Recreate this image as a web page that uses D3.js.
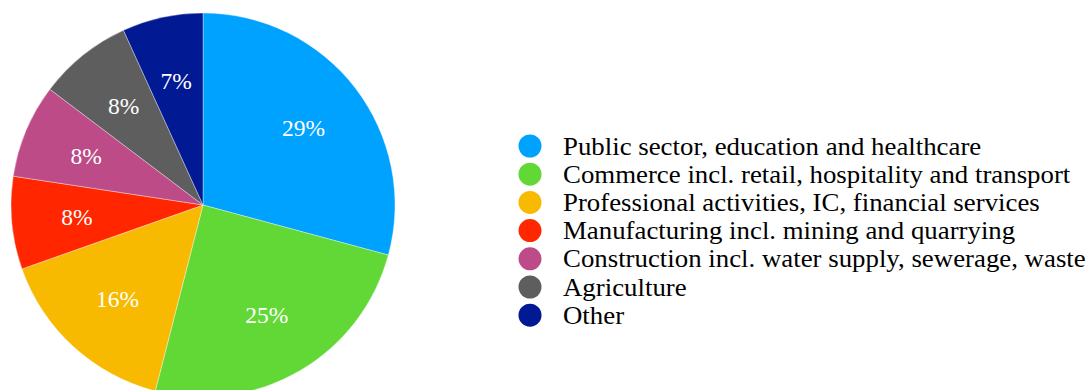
<!DOCTYPE html>
<html>
<head>
<meta charset="utf-8">
<script src="https://cdn.jsdelivr.net/npm/d3@7"></script>
<style>
  html, body { margin: 0; padding: 0; background: #ffffff; }
  svg { display: block; }
  text { font-family: "Liberation Serif", "Times New Roman", Times, serif; }
</style>
</head>
<body>
<svg id="chart" width="1085" height="390"></svg>
<script>
// Employment share by sector (percent)
const categories = [
  "Public sector, education and healthcare",
  "Commerce incl. retail, hospitality and transport",
  "Professional activities, IC, financial services",
  "Manufacturing incl. mining and quarrying",
  "Construction incl. water supply, sewerage, waste",
  "Agriculture",
  "Other"
];
const shares = [29.2, 24.8, 15.6, 7.8, 7.9, 7.9, 6.8];
const colors = ["#00a2ff", "#61d836", "#f8ba00", "#ff2600", "#bd4b87", "#5e5e5e", "#011993"];

const svg = d3.select("#chart");

const cx = 203, cy = 205, radius = 192;

const pie = d3.pie().sort(null).value(d => d)(shares);
const arc = d3.arc().innerRadius(0).outerRadius(radius);
const labelArc = d3.arc().innerRadius(radius * 0.66).outerRadius(radius * 0.66);
const color = d3.scaleOrdinal().domain(categories).range(colors);

const g = svg.append("g").attr("transform", `translate(${cx},${cy})`);

g.selectAll("path.slice")
  .data(pie)
  .join("path")
  .attr("class", "slice")
  .attr("d", arc)
  .attr("fill", (d, i) => color(categories[i]))
  .attr("stroke", "rgba(255,255,255,0.6)")
  .attr("stroke-width", 0.6);

const total = d3.sum(shares);
g.selectAll("text.pct")
  .data(pie)
  .join("text")
  .attr("class", "pct")
  .attr("transform", d => `translate(${labelArc.centroid(d)})`)
  .attr("text-anchor", "middle")
  .attr("dy", "0.35em")
  .attr("fill", "#ffffff")
  .attr("font-size", 23.5)
  .text(d => Math.round(d.value / total * 100) + "%");

// Legend: colour dot followed by the sector name
const legendX = 530, legendY = 146, rowH = 28.2;
const legend = svg.append("g");
const rows = legend.selectAll("g.row")
  .data(categories)
  .join("g")
  .attr("class", "row")
  .attr("transform", (d, i) => `translate(${legendX},${legendY + i * rowH})`);

rows.append("circle")
  .attr("r", 11.5)
  .attr("fill", d => color(d));

rows.append("text")
  .attr("transform", "translate(33,0) scale(1.095,1)")
  .attr("dy", "0.35em")
  .attr("fill", "#000000")
  .attr("font-size", 24.5)
  .text(d => d);
</script>
</body>
</html>
